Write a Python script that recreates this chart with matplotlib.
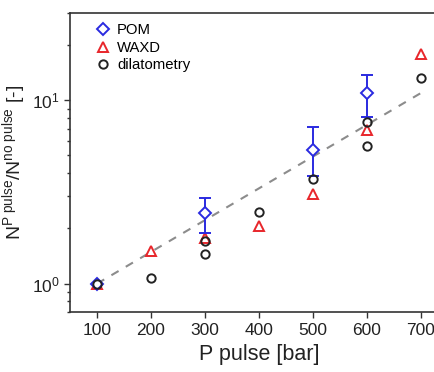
import matplotlib.pyplot as plt
import numpy as np

plt.rcParams['font.family'] = ['Liberation Sans', 'DejaVu Sans']
plt.rcParams['mathtext.fontset'] = 'custom'
plt.rcParams['mathtext.rm'] = 'Liberation Sans'
plt.rcParams['mathtext.it'] = 'Liberation Sans:italic'

# POM with error bars
p_pom = [100, 300, 500, 600]
n_pom = [1.0, 2.42, 5.33, 10.9]
pom_lo = [1.0, 1.9, 3.85, 8.07]
pom_hi = [1.0, 2.92, 7.1, 13.7]

# WAXD
p_waxd = [100, 200, 300, 400, 500, 600, 700]
n_waxd = [1.0, 1.5, 1.77, 2.07, 3.09, 6.9, 17.8]

# dilatometry
p_dil = [100, 200, 300, 300, 400, 500, 600, 600, 700]
n_dil = [1.0, 1.07, 1.7, 1.445, 2.46, 3.72, 7.65, 5.6, 13.2]

# exponential trend line end points
p_fit = [100, 710]
n_fit = [1.0, 11.4]

blue = "#2a2ae0"
red = "#e8262b"
dark = "#222222"

fig = plt.figure(figsize=(4.35, 3.72), dpi=100)
ax = fig.add_axes([0.161, 0.161, 0.869, 0.805])

pf = np.linspace(p_fit[0], p_fit[1], 50)
nf = np.exp(np.interp(pf, p_fit, np.log(n_fit)))
ax.plot(pf, nf, linestyle=(0, (4, 4)), color="#8c8c8c", lw=1.5, zorder=1)

yerr = [np.array(n_pom) - np.array(pom_lo), np.array(pom_hi) - np.array(n_pom)]
ax.errorbar(p_pom, n_pom, yerr=yerr, fmt="none", ecolor=blue,
            elinewidth=1.4, capsize=4, capthick=1.4, zorder=3)
ax.plot(p_pom, n_pom, "D", mfc="white", mec=blue, ms=6, mew=1.4,
        linestyle="none", label="POM", zorder=3)
ax.plot(p_waxd, n_waxd, "^", mfc="none", mec=red, ms=7, mew=1.4,
        linestyle="none", label="WAXD", zorder=2)
ax.plot(p_dil, n_dil, "o", mfc="none", mec=dark, ms=6, mew=1.4,
        linestyle="none", label="dilatometry", zorder=4)

ax.set_yscale("log")
ax.set_xlim(50, 750)
ax.set_ylim(0.7, 30)
ax.set_xticks([100, 200, 300, 400, 500, 600, 700])
ax.tick_params(axis="both", which="major", direction="out", length=4,
               width=1, labelsize=12.5, colors="#333333", labelcolor=dark)
ax.tick_params(axis="y", which="minor", direction="out", length=2.5, width=1,
               colors="#333333")
for s in ["left", "bottom", "top"]:
    ax.spines[s].set_linewidth(1.2)
    ax.spines[s].set_color("#333333")
ax.spines["right"].set_visible(False)

ax.set_xlabel("P pulse [bar]", fontsize=15.5, color=dark, labelpad=5)
ax.set_ylabel(r"N$^{\rm P\ pulse}$/N$^{\rm no\ pulse}$ [-]", fontsize=14,
              color=dark, labelpad=3)

ax.legend(loc="upper left", frameon=False, fontsize=10.7, handletextpad=0.2,
          borderaxespad=0.3, labelspacing=0.25, handlelength=1.5,
          bbox_to_anchor=(0.03, 1.0))

fig.savefig("out.png", dpi=100)
